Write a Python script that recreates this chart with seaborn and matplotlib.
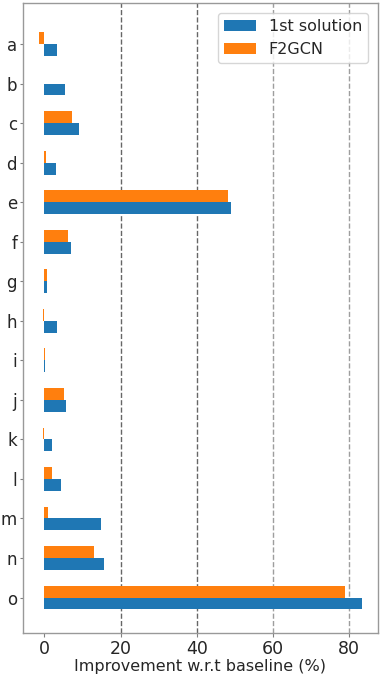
import matplotlib
matplotlib.use("Agg")
import matplotlib.pyplot as plt
import seaborn as sns
import pandas as pd

categories = ["a", "b", "c", "d", "e", "f", "g", "h", "i", "j", "k", "l", "m", "n", "o"]
first_solution = [3.2, 5.4, 9.0, 2.9, 48.9, 7.0, 0.6, 3.4, 0.2, 5.7, 2.1, 4.3, 14.8, 15.7, 83.4]
f2gcn = [-1.5, -0.2, 7.3, 0.3, 48.3, 6.3, 0.7, -0.4, 0.2, 5.0, -0.3, 2.1, 0.8, 13.0, 79.0]

df = pd.DataFrame({
    "category": categories * 2,
    "value": first_solution + f2gcn,
    "method": ["1st solution"] * len(categories) + ["F2GCN"] * len(categories),
})

sns.set_style("white")
plt.rcParams["font.family"] = ["DejaVu Sans"]

fig = plt.figure(figsize=(3.83, 6.76), dpi=100)
ax = fig.add_axes([0.059, 0.064, 0.928, 0.9316])

palette = {"1st solution": "#1f77b4", "F2GCN": "#ff7f0e"}
sns.barplot(data=df, y="category", x="value", hue="method",
            hue_order=["F2GCN", "1st solution"], palette=palette,
            orient="h", width=0.6, linewidth=0, saturation=1, ax=ax)

for x, c in zip([20, 40, 60, 80], ["0.4", "0.4", "0.62", "0.62"]):
    ax.axvline(x, color=c, linestyle="--", linewidth=1, zorder=0.5)

ax.set_xlim(-5.75, 87.6)
ax.set_ylim(14.89, -1.04)
ax.set_xticks([0, 20, 40, 60, 80])
ax.set_xlabel("Improvement w.r.t baseline (%)", fontsize=11.5, labelpad=1)
ax.set_ylabel("")
ax.tick_params(axis="x", labelsize=12.5, length=3, color="0.5", pad=2, bottom=True)
ax.tick_params(axis="y", labelsize=12, length=2.5, color="0.5", pad=1.5, left=True)

for s in ax.spines.values():
    s.set_color("0.6")
    s.set_linewidth(1)

handles, labels = ax.get_legend_handles_labels()
order = [labels.index("1st solution"), labels.index("F2GCN")]
ax.legend([handles[i] for i in order], [labels[i] for i in order],
          loc="upper right", fontsize=11.5, frameon=True,
          borderaxespad=0.6)

fig.savefig("out.png", dpi=100)
